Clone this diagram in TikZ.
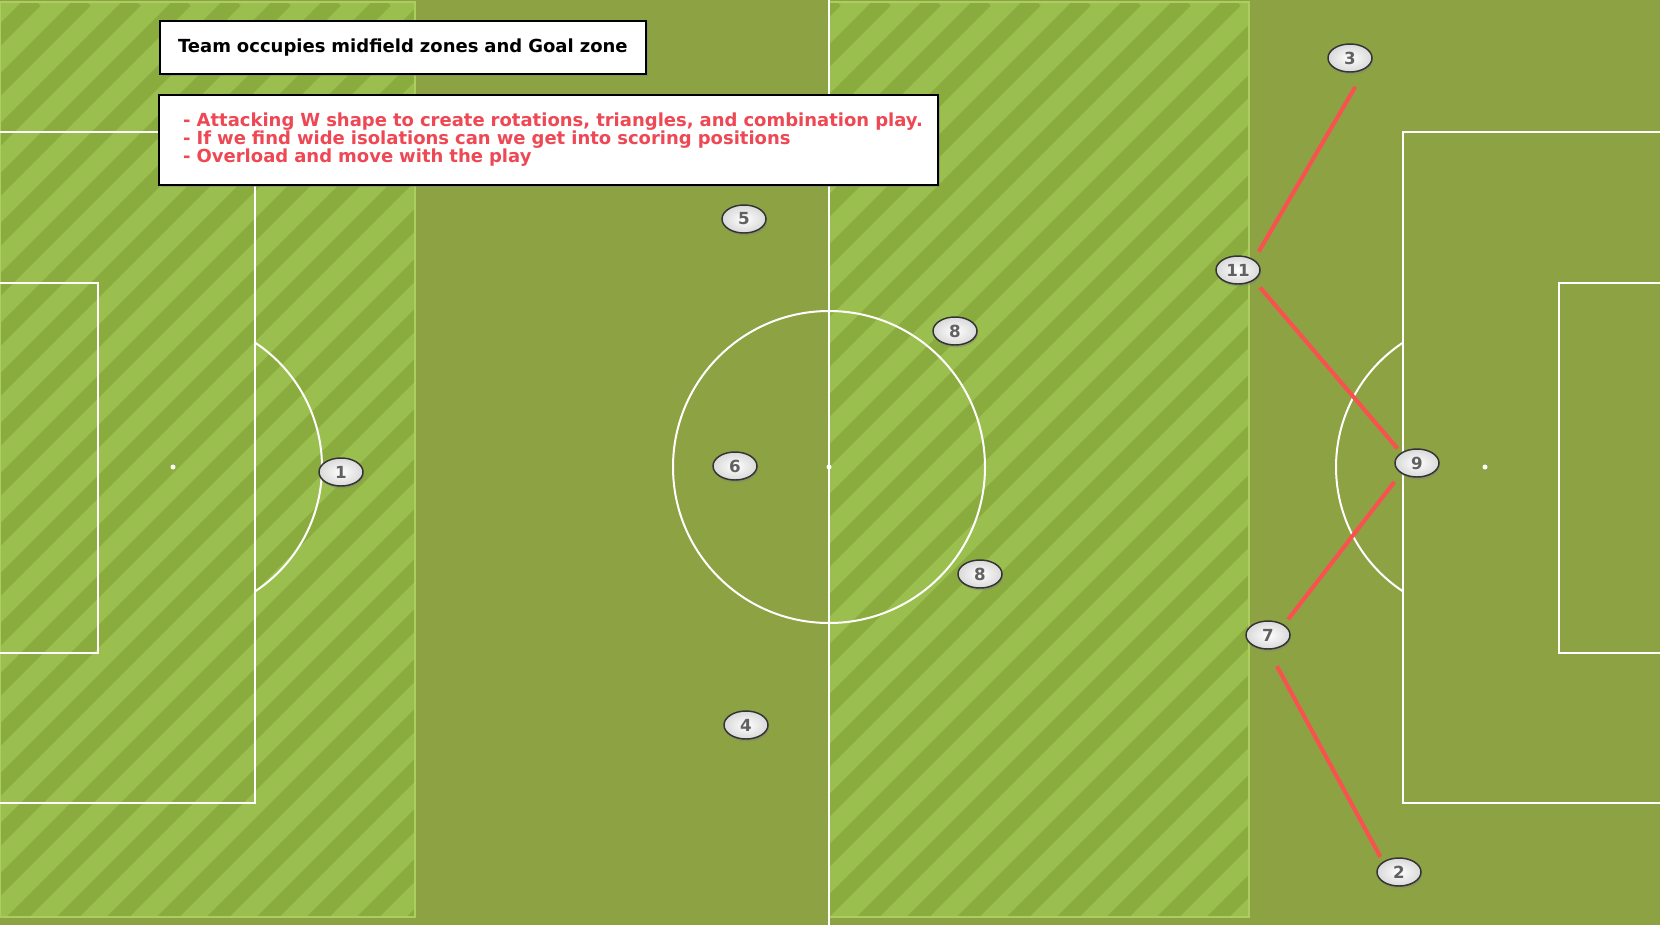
\documentclass[tikz,border=0pt]{standalone}
\usepackage{fontspec}
\setmainfont{DejaVu Sans}
\usetikzlibrary{shapes.geometric,shadows}
\definecolor{pitchgreen}{RGB}{141,162,66}
\definecolor{stripelight}{RGB}{155,191,78}
\definecolor{stripedark}{RGB}{138,172,62}
\definecolor{zoneedge}{RGB}{172,206,96}
\definecolor{wred}{RGB}{250,80,80}
\definecolor{notered}{RGB}{238,72,84}
\tikzset{
  player/.style={ellipse, minimum width=33pt, minimum height=21pt, inner sep=0pt,
    draw=black!80, line width=1.1pt, inner color=white, outer color=gray!30,
    drop shadow={opacity=0.45, shadow xshift=0.8pt, shadow yshift=-1.8pt},
    font=\bfseries\fontsize{12.5}{12.5}\selectfont, text=black!62},
  wline/.style={draw=wred, line width=3pt},
  pitchline/.style={draw=white, line width=1.5pt},
  notebox/.style={draw=black, line width=1.5pt, fill=white, anchor=north west, align=left,
    drop shadow={opacity=0.5, shadow xshift=1.5pt, shadow yshift=-1.5pt}},
}
\begin{document}
\begin{tikzpicture}[x=0.75pt,y=0.75pt,yscale=-1,xscale=1]
        \useasboundingbox (0,0) rectangle (1660,925);
        % grass
        \fill [pitchgreen] (0,0) rectangle (1660,925);
        \fill [stripelight] (0,2) rectangle (415,917);
        \fill [stripelight] (829,2) rectangle (1249,917);
        \begin{scope}
          \clip (0,2) rectangle (415,917) (829,2) rectangle (1249,917);
          \foreach \s in {-940,-890,...,1260}
            \draw [stripedark, line width=12pt] (\s,925) -- ++(925,-925);
        \end{scope}
        \draw [zoneedge, line width=1.5pt] (0,2) rectangle (415,917);
        \draw [zoneedge, line width=1.5pt] (829,2) rectangle (1249,917);

        % markings
        \draw [pitchline] (829,0) -- (829,925);
        \draw [pitchline] (829,467) circle [radius=156];
        \fill [white] (829,467) circle [radius=2.5];
        \draw [pitchline] (0,132) -- (255,132) -- (255,803) -- (0,803);
        \draw [pitchline] (0,283) -- (98,283) -- (98,653) -- (0,653);
        \draw [pitchline] (173,467) ++(-56.6:149) arc [start angle=-56.6, end angle=56.6, radius=149];
        \fill [white] (173,467) circle [radius=2.5];
        \draw [pitchline] (1660,132) -- (1403,132) -- (1403,803) -- (1660,803);
        \draw [pitchline] (1660,283) -- (1559,283) -- (1559,653) -- (1660,653);
        \draw [pitchline] (1485,467) ++(123.4:149) arc [start angle=123.4, end angle=236.6, radius=149];
        \fill [white] (1485,467) circle [radius=2.5];

        % notes
        \node [notebox, minimum width=364.5pt, minimum height=39.75pt, inner xsep=13.5pt,
          text width=337.5pt, font=\bfseries\fontsize{13.5}{13.5}\selectfont] (title) at (159,20)
          {Team occupies midfield zones and Goal zone};
        \node [notebox, minimum width=584.25pt, minimum height=67.5pt, inner xsep=8pt,
          text width=568pt, text=notered, font=\bfseries\fontsize{13.5}{13.5}\selectfont] (notes) at (158,94)
          {\hspace*{10pt}- Attacking W shape to create rotations, triangles, and combination play.\\
           \hspace*{10pt}- If we find wide isolations can we get into scoring positions\\
           \hspace*{10pt}- Overload and move with the play};

        % players
        \node [player] (p1) at (341,472) {1};
        \node [player] (p5) at (744,219) {5};
        \node [player] (p6) at (735,466) {6};
        \node [player] (p4) at (746,725) {4};
        \node [player] (p8a) at (955,331) {8};
        \node [player] (p8b) at (980,574) {8};
        \node [player] (p3) at (1350,58) {3};
        \node [player] (p11) at (1238,270) {11};
        \node [player] (p9) at (1417,463) {9};
        \node [player] (p7) at (1268,635) {7};
        \node [player] (p2) at (1399,872) {2};

        % W shape
        \draw [wline, shorten <=16pt, shorten >=7pt] (p3.south east) -- (p11.north east);
        \draw [wline, shorten <=7pt, shorten >=4pt] (p11.south east) -- (p9.north west);
        \draw [wline, shorten <=8pt, shorten >=5pt] (p9.south west) -- (p7.north east);
        \draw [wline, shorten <=14pt, shorten >=4pt] (p7.south) -- (p2.north west);
\end{tikzpicture}
\end{document}
